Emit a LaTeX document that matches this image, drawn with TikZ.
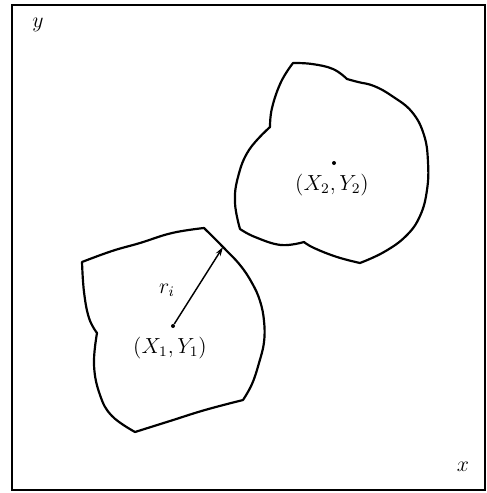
\documentclass[tikz,border=0pt]{standalone}
\usepackage{amsmath}
\usepackage{tikz}
\usetikzlibrary{arrows.meta,positioning}
\tikzset{
  frame/.style ={draw=black, line width=1.1pt},
  grain/.style ={draw=black, line width=1.2pt, line join=round},
  ctr/.style   ={circle, fill=black, inner sep=0pt, minimum size=2.2pt},
  rad/.style   ={draw=black, line width=0.8pt, -{Stealth[length=5pt,width=3pt]}},
  lbl/.style   ={font=\large, inner sep=1pt},
  arc/.style   ={smooth, tension=0.7},
}

\begin{document}
\begin{tikzpicture}[x=0.55pt,y=-0.55pt]
  % pixel grid of the original, y pointing down
  \useasboundingbox (0,0) rectangle (487,493);
  \draw[frame] (11.5,5) rectangle (485,490);

  % ---------------- axis letters --------------------------------------------
  \node[lbl] (ylab) at (38,25)   {$y$};
  \node[lbl] (xlab) at (463,467) {$x$};

  % ---------------- grain 1 (lower left), one arc per neighbour -------------
  \draw[grain] plot[arc] coordinates {(82,262) (112,251) (140,243) (172,233) (204,228)}
      -- plot[arc] coordinates {(204,228) (223,247) (240,265) (252,283) (260,301)
                                (264,321) (264,342) (259,363) (252,384) (243,400)}
      -- plot[arc] coordinates {(243,400) (205,410) (170,421) (135,432)}
      -- plot[arc] coordinates {(135,432) (112,416) (100,395) (94,365) (97,333)}
      -- plot[arc] coordinates {(97,333) (89,318) (84,292) (82,262)} -- cycle;
  \node[ctr] (c1) at (173,326) {};
  \coordinate (edge1) at (223,247);
  \draw[rad] (c1) -- (edge1);
  \node[lbl] (ri) at (167,290) {$r_i$};
  \node[lbl] (p1) at (170,348) {$(X_1,Y_1)$};

  % ---------------- grain 2 (upper right) -----------------------------------
  \draw[grain] plot[arc] coordinates {(293,63) (312,64) (333,69) (347,79)}
      -- plot[arc] coordinates {(347,79) (358,82) (374,86) (392,96) (412,112)
                                (424,135) (428,162) (427,190) (420,216) (406,236)
                                (384,252) (360,263)}
      -- plot[arc] coordinates {(360,263) (337,257) (314,248) (304,242)}
      -- plot[arc] coordinates {(304,242) (281,245) (255,237) (240,229)}
      -- plot[arc] coordinates {(240,229) (235,203) (238,177) (249,150) (270,127)}
      -- plot[arc] coordinates {(270,127) (272,108) (281,82) (293,63)} -- cycle;
  \node[ctr] (c2) at (334,163) {};
  \node[lbl] (p2) at (332,185) {$(X_2,Y_2)$};
\end{tikzpicture}
\end{document}
